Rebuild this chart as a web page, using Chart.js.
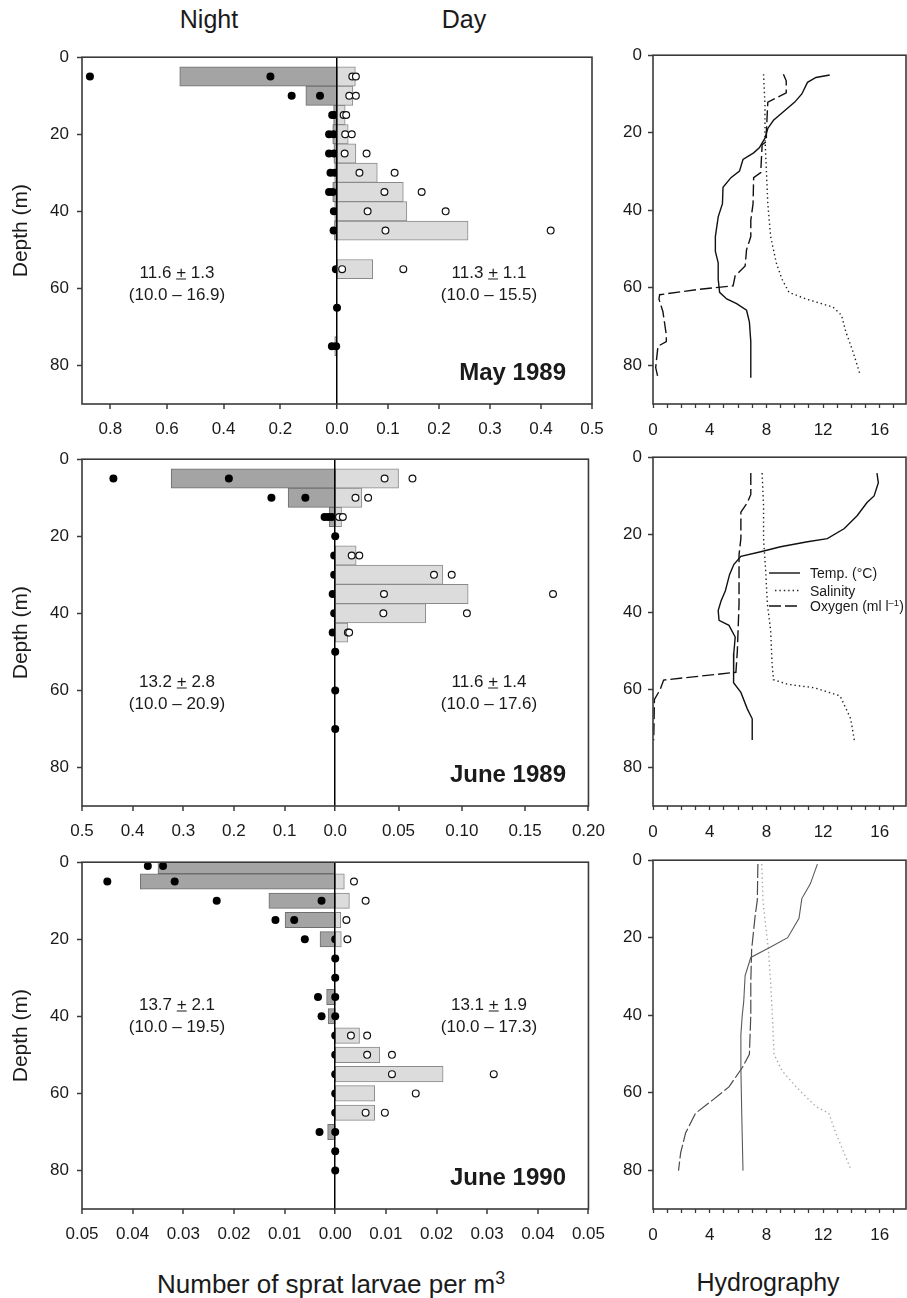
<!DOCTYPE html>
<html>
<head>
<meta charset="utf-8">
<title>Sprat larvae vertical distribution</title>
<script src="https://cdn.jsdelivr.net/npm/chart.js@4.4.1/dist/chart.umd.min.js"></script>
<style>
  html, body { margin: 0; padding: 0; background: #fff; }
  body { position: relative; width: 907px; height: 1298px; overflow: hidden;
         font-family: "Liberation Sans", Arial, sans-serif; color: #1a1a1a; }
  canvas { position: absolute; }
  .txt { position: absolute; white-space: nowrap; line-height: 1; transform: translate(-50%, -50%); }
  .txt.r { transform: translate(-100%, -50%); }
  .txt.l { transform: translate(0, -50%); }
  .txt.b { font-weight: bold; }
  sup { font-size: 0.68em; position: relative; top: -0.5em; vertical-align: baseline; }
</style>
</head>
<body>
<script>
// ---------------- Larvae per m3, May 1989 ----------------
const may89Depth      = [5, 10, 15, 20, 25, 30, 35, 40, 45, 55, 75];
const may89NightMean  = [0.555, 0.11, 0.012, 0.015, 0.011, 0.008, 0.015, 0.008, 0.009, 0.002, 0.008];
const may89DayMean    = [0.036, 0.031, 0.016, 0.022, 0.037, 0.079, 0.13, 0.137, 0.257, 0.07, null];
const may89NightPtDepth = [5, 5, 10, 10, 15, 15, 20, 20, 25, 25, 30, 30, 35, 35, 40, 45, 55, 65, 75, 75];
const may89NightPtVal   = [0.872, 0.235, 0.16, 0.06, 0.017, 0.01, 0.028, 0.012, 0.028, 0.011, 0.023, 0.008, 0.028, 0.015, 0.011, 0.012, 0.004, 0.0, 0.018, 0.003];
const may89DayPtDepth = [5, 5, 10, 10, 15, 15, 20, 20, 25, 25, 30, 30, 35, 35, 40, 40, 45, 45, 55, 55];
const may89DayPtVal   = [0.03, 0.037, 0.024, 0.037, 0.013, 0.018, 0.016, 0.029, 0.015, 0.058, 0.044, 0.113, 0.093, 0.166, 0.06, 0.213, 0.095, 0.419, 0.01, 0.13];
const may89NightTicks = [0.8, 0.6, 0.4, 0.2];
const may89DayTicks   = [0.1, 0.2, 0.3, 0.4, 0.5];

// ---------------- Larvae per m3, June 1989 ----------------
const jun89Depth      = [5, 10, 15, 25, 30, 35, 40, 45];
const jun89NightMean  = [0.324, 0.093, 0.012, null, null, null, null, null];
const jun89DayMean    = [0.05, 0.021, 0.005, 0.0165, 0.085, 0.105, 0.0715, 0.01];
const jun89NightPtDepth = [5, 5, 10, 10, 15, 15, 15, 20, 25, 30, 35, 40, 45, 50, 60, 70];
const jun89NightPtVal   = [0.438, 0.21, 0.126, 0.059, 0.021, 0.014, 0.007, 0, 0.002, 0.002, 0.005, 0.002, 0.005, 0, 0, 0];
const jun89DayPtDepth = [5, 5, 10, 10, 15, 15, 25, 25, 30, 30, 35, 35, 40, 40, 45, 45];
const jun89DayPtVal   = [0.039, 0.061, 0.016, 0.026, 0.003, 0.006, 0.013, 0.019, 0.078, 0.092, 0.0385, 0.172, 0.038, 0.104, 0.01, 0.011];
const jun89NightTicks = [0.5, 0.4, 0.3, 0.2, 0.1];
const jun89DayTicks   = [0.05, 0.10, 0.15, 0.20];

// ---------------- Larvae per m3, June 1990 ----------------
const jun90Depth      = [1, 5, 10, 15, 20, 35, 40, 45, 50, 55, 60, 65, 70];
const jun90NightMean  = [0.035, 0.0385, 0.0131, 0.0099, 0.003, 0.0017, 0.0014, null, null, null, null, null, 0.0015];
const jun90DayMean    = [null, 0.0018, 0.0028, 0.0011, 0.0012, null, null, 0.0048, 0.0088, 0.0213, 0.0078, 0.0078, null];
const jun90NightPtDepth = [1, 1, 5, 5, 10, 10, 15, 15, 20, 20, 25, 30, 35, 35, 40, 40, 45, 50, 55, 60, 65, 70, 70, 75, 80];
const jun90NightPtVal   = [0.037, 0.034, 0.045, 0.0317, 0.0234, 0.0027, 0.0118, 0.0081, 0.006, 0, 0, 0, 0.0034, 0, 0.0027, 0, 0, 0, 0, 0, 0, 0.0031, 0, 0, 0];
const jun90DayPtDepth = [5, 10, 15, 20, 45, 45, 50, 50, 55, 55, 60, 65, 65];
const jun90DayPtVal   = [0.0037, 0.006, 0.0022, 0.0024, 0.0031, 0.0063, 0.0063, 0.0112, 0.0112, 0.0313, 0.0159, 0.006, 0.0098];
const jun90NightTicks = [0.05, 0.04, 0.03, 0.02, 0.01];
const jun90DayTicks   = [0.01, 0.02, 0.03, 0.04, 0.05];

const depthTicks = [0, 20, 40, 60, 80];

// ---------------- Hydrography ----------------
const may89TempDepth = [5.1, 5.75, 7, 10, 12.1, 14.6, 16.8, 18.9, 21.4, 23.9, 25.2, 26.9, 29.9, 31.6, 34.1, 38.3, 41.7, 46.8, 50.6, 53.6, 57.8, 61.2, 62.9, 64.1, 65.8, 68.8, 73.9, 77.2, 83.2];
const may89TempVal   = [12.47, 11.5, 10.9, 10.5, 10.0, 9.2, 8.5, 8.1, 7.9, 7.5, 7.1, 6.35, 6.1, 5.5, 4.94, 4.9, 4.6, 4.4, 4.4, 4.6, 4.6, 4.7, 5.2, 5.9, 6.6, 6.8, 6.9, 6.9, 6.9];
const may89SalDepth  = [4.9, 12.9, 21.4, 29.9, 38.3, 46.8, 53.6, 57.8, 61.2, 62.9, 65, 67.1, 71.3, 76.4, 82.3];
const may89SalVal    = [7.8, 7.9, 7.9, 8.0, 8.1, 8.3, 8.7, 9.1, 9.6, 10.8, 12.7, 13.3, 13.6, 14.1, 14.6];
const may89OxyDepth  = [4.9, 6.6, 9.7, 12.1, 19.7, 22.3, 23.1, 30.3, 31.6, 38.3, 42.6, 46.8, 50.2, 54.4, 56.9, 59.5, 60.5, 61.8, 62.9, 66.2, 72.2, 73.9, 75.1, 80.6, 83.2];
const may89OxyVal    = [9.2, 9.4, 9.4, 8.1, 8.0, 8.0, 7.7, 7.6, 7.1, 7.06, 6.9, 6.9, 6.6, 6.5, 5.8, 5.65, 3.06, 0.47, 0.42, 0.7, 0.94, 0.94, 0.35, 0.19, 0.35];

const jun89TempDepth = [4.1, 6.6, 10, 11.7, 15.1, 18.4, 21, 21.8, 23.1, 24.4, 25.6, 27.7, 30.3, 34.5, 37.1, 39.6, 42.1, 43.4, 46.4, 50.6, 54.8, 58.2, 60.7, 65, 67.5, 73];
const jun89TempVal   = [15.8, 15.9, 15.6, 15.1, 14.4, 13.5, 12.3, 10.9, 9.0, 7.6, 6.2, 5.7, 5.4, 5.1, 4.8, 4.6, 4.66, 5.36, 5.8, 5.7, 5.67, 5.7, 6.2, 6.66, 7.0, 7.0];
const jun89SalDepth  = [4.1, 12.5, 21, 29.4, 37.9, 44.7, 53.1, 57.4, 58.6, 59.5, 61.6, 67.5, 73];
const jun89SalVal    = [7.7, 7.8, 7.8, 7.95, 8.07, 8.3, 8.4, 8.5, 9.5, 11.4, 13.2, 13.95, 14.2];
const jun89OxyDepth  = [4.1, 9.6, 11.7, 14.2, 21, 25.2, 37.9, 50, 55.5, 57.5, 60, 62.5, 73];
const jun89OxyVal    = [6.9, 6.9, 6.66, 6.2, 6.2, 6.07, 6.07, 5.95, 5.85, 0.75, 0.5, 0.1, 0.05];

const jun90TempDepth = [1, 6.1, 9.9, 15, 20, 22.6, 25.1, 29.8, 36.5, 39.9, 45, 53.5, 65.3, 80.1];
const jun90TempVal   = [11.6, 11.1, 10.5, 10.3, 9.5, 8.2, 6.9, 6.5, 6.4, 6.3, 6.2, 6.2, 6.26, 6.35];
const jun90SalDepth  = [1, 10.3, 17.1, 23, 31.5, 39.9, 50.1, 54.3, 58.5, 63.6, 65.3, 70.4, 79.7];
const jun90SalVal    = [7.67, 7.76, 7.95, 8.14, 8.3, 8.42, 8.54, 9.1, 10.1, 11.5, 12.4, 12.9, 13.95];
const jun90OxyDepth  = [1, 10.3, 14.6, 23, 31.5, 39.9, 50.1, 53.5, 58.5, 61.9, 65.3, 70.4, 75.5, 80.1];
const jun90OxyVal    = [7.4, 7.36, 7.2, 6.96, 6.9, 6.9, 6.8, 6.3, 5.36, 4.2, 3.0, 2.3, 1.95, 1.8];

const hydroTicks = [0, 1, 2, 3, 4, 5, 6, 7, 8, 9, 10, 11, 12, 13, 14, 15, 16, 17];

// mean +- sd (range) of the depth distribution, night / day
const may89Stats = ['11.6 <u>+</u> 1.3', '(10.0 – 16.9)', '11.3 <u>+</u> 1.1', '(10.0 – 15.5)'];
const jun89Stats = ['13.2 <u>+</u> 2.8', '(10.0 – 20.9)', '11.6 <u>+</u> 1.4', '(10.0 – 17.6)'];
const jun90Stats = ['13.7 <u>+</u> 2.1', '(10.0 – 19.5)', '13.1 <u>+</u> 1.9', '(10.0 – 17.3)'];

// ------------------------------------------------------------
Chart.defaults.font.family = '"Liberation Sans", Arial, sans-serif';
Chart.defaults.color = '#1a1a1a';
const INK = '#3a3a3a';

function addCanvas(left, top, w, h) {
  const cv = document.createElement('canvas');
  cv.width = w; cv.height = h;
  cv.style.left = left + 'px'; cv.style.top = top + 'px';
  cv.style.width = w + 'px'; cv.style.height = h + 'px';
  document.body.appendChild(cv);
  return cv;
}

function addText(html, x, y, size, cls) {
  const el = document.createElement('div');
  el.className = 'txt' + (cls ? ' ' + cls : '');
  el.innerHTML = html;
  el.style.left = x + 'px';
  el.style.top = y + 'px';
  el.style.fontSize = size + 'px';
  document.body.appendChild(el);
}

const framePlugin = {
  id: 'frame',
  afterDraw(chart) {
    const { ctx, chartArea: a } = chart;
    ctx.save();
    ctx.strokeStyle = INK;
    ctx.lineWidth = 1.6;
    ctx.strokeRect(a.left, a.top, a.right - a.left, a.bottom - a.top);
    ctx.restore();
  }
};

const hydroLegend = {
  id: 'hydroLegend',
  afterDraw(chart, args, opts) {
    if (!opts || !opts.rows) return;
    const ctx = chart.ctx;
    chart.data.datasets.forEach((ds, i) => {
      ctx.save();
      ctx.strokeStyle = ds.borderColor;
      ctx.lineWidth = ds.borderWidth;
      ctx.setLineDash(ds.borderDash || []);
      ctx.beginPath();
      ctx.moveTo(opts.x0[i], opts.rows[i]);
      ctx.lineTo(opts.x1, opts.rows[i]);
      ctx.stroke();
      ctx.restore();
    });
  }
};

const depthAxis = (title, width, pad) => ({
  type: 'linear', position: 'left', reverse: true, min: 0, max: 90, offset: false,
  afterBuildTicks: s => { s.ticks = depthTicks.map(v => ({ value: v })); },
  afterFit: s => { s.width = width; },
  ticks: { font: { size: 17 }, padding: pad, color: '#1a1a1a' },
  grid: { offset: false, drawOnChartArea: false, tickLength: 5, tickColor: INK, tickWidth: 1.5 },
  border: { display: false },
  title: title ? { display: true, text: title, font: { size: 21 }, color: '#1a1a1a', padding: { top: 9, bottom: 0 } } : { display: false }
});

function larvaeChart(top, d) {
  const cv = addCanvas(0, top - 10, 615, 405);
  const bars = (depths, vals) => depths.map((y, i) => ({ x: vals[i], y })).filter(p => p.x != null);
  const pts = (depths, vals) => depths.map((y, i) => ({ x: vals[i], y }));
  const tickList = [
    ...d.nightTicks.map(v => ({ pos: -v / d.nightMax, text: v.toFixed(d.nightDec) })),
    { pos: 0, text: d.zeroText },
    ...d.dayTicks.map(v => ({ pos: v / d.dayMax, text: v.toFixed(d.dayDec) }))
  ];
  const barStyle = { type: 'bar', indexAxis: 'y', yAxisID: 'y', borderWidth: 1, borderSkipped: false,
                     barPercentage: 1, categoryPercentage: 1, grouped: false, clip: 0 };
  new Chart(cv, {
    type: 'scatter',
    data: {
      datasets: [
        { type: 'scatter', data: pts(d.dayPtDepth, d.dayPtVal), xAxisID: 'xD', yAxisID: 'y',
          pointRadius: 3.4, pointBackgroundColor: '#fff', pointBorderColor: '#111', pointBorderWidth: 1.2 },
        Object.assign({ data: bars(d.depth, d.dayMean), xAxisID: 'xD',
          backgroundColor: '#dcdcdc', borderColor: '#8a8a8a' }, barStyle),
        { type: 'scatter', data: pts(d.nightPtDepth, d.nightPtVal), xAxisID: 'xN', yAxisID: 'y',
          pointRadius: 4, pointBackgroundColor: '#000', pointBorderColor: '#000', pointBorderWidth: 0 },
        Object.assign({ data: bars(d.depth, d.nightMean), xAxisID: 'xN',
          backgroundColor: '#a4a4a4', borderColor: '#6e6e6e' }, barStyle)
      ]
    },
    options: {
      responsive: false, animation: false, events: [], devicePixelRatio: 1,
      layout: { padding: { left: 0, top: 10, right: 23, bottom: 0 } },
      plugins: { legend: { display: false }, tooltip: { enabled: false } },
      scales: {
        x: {
          type: 'linear', position: 'bottom', min: -1, max: 1, offset: false,
          afterBuildTicks: s => { s.ticks = tickList.map(t => ({ value: t.pos })); },
          afterFit: s => { s.height = 40; },
          ticks: { autoSkip: false, maxRotation: 0, minRotation: 0, font: { size: 17 }, padding: 10,
                   color: '#1a1a1a', callback: (v, i) => tickList[i].text },
          grid: { offset: false, z: 1, tickLength: 5, tickColor: INK, tickWidth: 1.5,
                  color: c => (c.tick && c.tick.value === 0) ? '#000' : 'rgba(0,0,0,0)',
                  lineWidth: c => (c.tick && c.tick.value === 0) ? 1.5 : 0 },
          border: { display: false }
        },
        xN: { type: 'linear', display: false, offset: false, reverse: true, min: -d.nightMax, max: d.nightMax },
        xD: { type: 'linear', display: false, offset: false, min: -d.dayMax, max: d.dayMax },
        y: depthAxis('Depth (m)', 82, 8)
      }
    },
    plugins: [framePlugin]
  });
}

function hydroChart(top, d, legendRows) {
  const cv = addCanvas(590, top - 10, 330, 405);
  const line = (depths, vals) => depths.map((y, i) => ({ x: vals[i], y }));
  const base = { type: 'line', indexAxis: 'y', pointRadius: 0, fill: false, tension: 0 };
  new Chart(cv, {
    type: 'line',
    data: {
      datasets: [
        Object.assign({ label: 'Temp. (°C)', data: line(d.tempDepth, d.tempVal),
          borderColor: d.colors[0], borderWidth: d.widths[0], borderDash: [] }, base),
        Object.assign({ label: 'Salinity', data: line(d.salDepth, d.salVal),
          borderColor: d.colors[1], borderWidth: 1.4, borderDash: [1.4, 3] }, base),
        Object.assign({ label: 'Oxygen (ml l-1)', data: line(d.oxyDepth, d.oxyVal),
          borderColor: d.colors[2], borderWidth: d.widths[2], borderDash: d.dash }, base)
      ]
    },
    options: {
      responsive: false, animation: false, events: [], devicePixelRatio: 1,
      layout: { padding: { left: 0, top: 10, right: 14, bottom: 0 } },
      plugins: { legend: { display: false }, tooltip: { enabled: false },
                 hydroLegend: legendRows || {} },
      scales: {
        x: {
          type: 'linear', position: 'bottom', min: 0, max: 17.85, offset: false,
          afterBuildTicks: s => { s.ticks = hydroTicks.map(v => ({ value: v })); },
          afterFit: s => { s.height = 40; },
          ticks: { autoSkip: false, maxRotation: 0, minRotation: 0, font: { size: 17 }, padding: 12,
                   color: '#1a1a1a', callback: v => (v % 4 === 0 ? String(v) : '') },
          grid: { drawOnChartArea: false, tickLength: 4, tickColor: INK, tickWidth: 1.3 },
          border: { display: false }
        },
        y: depthAxis(null, 63, 6)
      }
    },
    plugins: [framePlugin, hydroLegend]
  });
}

const TOPS = [49, 451, 854];

larvaeChart(TOPS[0], {
  depth: may89Depth, nightMean: may89NightMean, dayMean: may89DayMean,
  nightPtDepth: may89NightPtDepth, nightPtVal: may89NightPtVal,
  dayPtDepth: may89DayPtDepth, dayPtVal: may89DayPtVal,
  nightMax: 0.9, dayMax: 0.5, nightTicks: may89NightTicks, dayTicks: may89DayTicks,
  nightDec: 1, dayDec: 1, zeroText: '0.0'
});
larvaeChart(TOPS[1], {
  depth: jun89Depth, nightMean: jun89NightMean, dayMean: jun89DayMean,
  nightPtDepth: jun89NightPtDepth, nightPtVal: jun89NightPtVal,
  dayPtDepth: jun89DayPtDepth, dayPtVal: jun89DayPtVal,
  nightMax: 0.5, dayMax: 0.2, nightTicks: jun89NightTicks, dayTicks: jun89DayTicks,
  nightDec: 1, dayDec: 2, zeroText: '0.0'
});
larvaeChart(TOPS[2], {
  depth: jun90Depth, nightMean: jun90NightMean, dayMean: jun90DayMean,
  nightPtDepth: jun90NightPtDepth, nightPtVal: jun90NightPtVal,
  dayPtDepth: jun90DayPtDepth, dayPtVal: jun90DayPtVal,
  nightMax: 0.05, dayMax: 0.05, nightTicks: jun90NightTicks, dayTicks: jun90DayTicks,
  nightDec: 2, dayDec: 2, zeroText: '0.00'
});

hydroChart(TOPS[0], {
  tempDepth: may89TempDepth, tempVal: may89TempVal, salDepth: may89SalDepth, salVal: may89SalVal,
  oxyDepth: may89OxyDepth, oxyVal: may89OxyVal,
  colors: ['#111', '#222', '#111'], widths: [1.4, 1.4, 1.4], dash: [12, 4]
});
hydroChart(TOPS[1], {
  tempDepth: jun89TempDepth, tempVal: jun89TempVal, salDepth: jun89SalDepth, salVal: jun89SalVal,
  oxyDepth: jun89OxyDepth, oxyVal: jun89OxyVal,
  colors: ['#111', '#222', '#111'], widths: [1.4, 1.4, 1.4], dash: [12, 4]
}, { x0: [179, 185, 179], x1: 210, rows: [132, 149.5, 165] });
hydroChart(TOPS[2], {
  tempDepth: jun90TempDepth, tempVal: jun90TempVal, salDepth: jun90SalDepth, salVal: jun90SalVal,
  oxyDepth: jun90OxyDepth, oxyVal: jun90OxyVal,
  colors: ['#5a5a5a', '#aaaaaa', '#4a4a4a'], widths: [1.1, 1.4, 1.2], dash: [14, 3]
});

// ---------------- free text ----------------
addText('Night', 209, 19, 25);
addText('Day', 464, 19, 25);

[[may89Stats, 272], [jun89Stats, 681], [jun90Stats, 1004]].forEach(([s, y]) => {
  addText(s[0], 177, y, 17);
  addText(s[1], 177, y + 22, 17);
  addText(s[2], 489, y, 17);
  addText(s[3], 489, y + 22, 17);
});

addText('May 1989', 566, 372, 24, 'r b');
addText('June 1989', 566, 774, 24, 'r b');
addText('June 1990', 566, 1177, 24, 'r b');

addText('Temp. (°C)', 810, 573, 14, 'l');
addText('Salinity', 810, 590.5, 14, 'l');
addText('Oxygen (ml l<sup>–1</sup>)', 810, 606, 14, 'l');

addText('Number of sprat larvae per m<sup>3</sup>', 331, 1284, 26);
addText('Hydrography', 768, 1282, 25);
</script>
</body>
</html>
